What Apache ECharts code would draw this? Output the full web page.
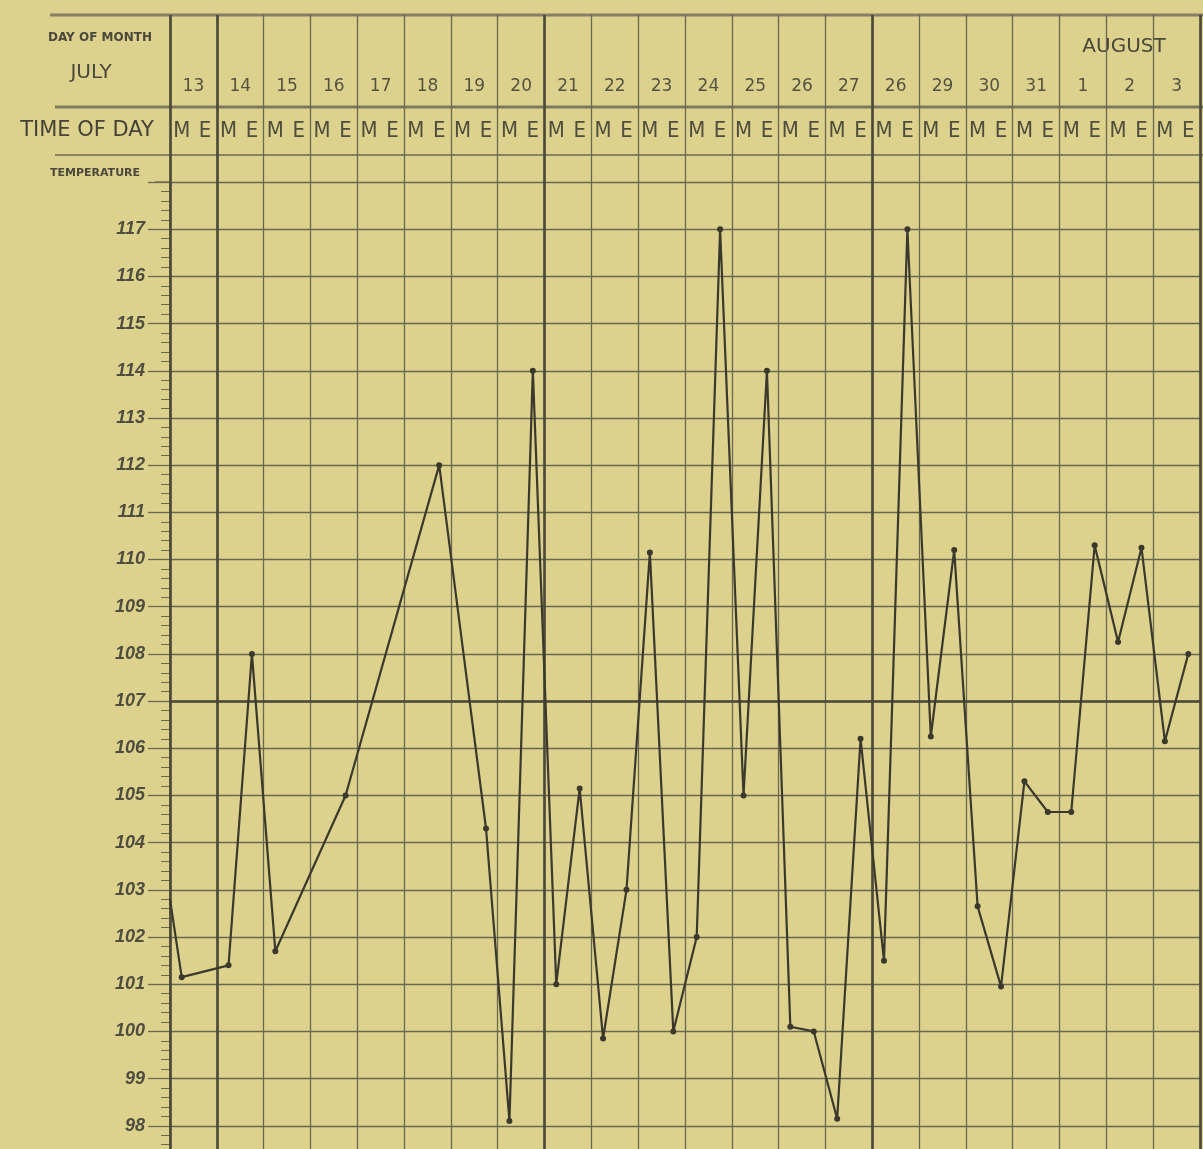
<!DOCTYPE html>
<html>
<head>
<meta charset="utf-8">
<script src="https://cdn.jsdelivr.net/npm/echarts@6/dist/echarts.min.js"></script>
<style>
  html, body { margin: 0; padding: 0; background: #dcd28e; }
  #chart { width: 1203px; height: 1149px; }
</style>
</head>
<body>
<div id="chart"></div>
<script>
// day columns as printed on the sheet (July 13 .. August 3)
var days = ['13', '14', '15', '16', '17', '18', '19', '20', '21', '22', '23',
  '24', '25', '26', '27', '26', '29', '30', '31', '1', '2', '3'];

// one reading morning (M) and evening (E) per day, null = no reading
var temps = [
  101.15, null,   101.4, 108.0,  101.7, null,   null,   105.0,
  null,   null,   null,  112.0,  null,  104.3,  98.1,   114.0,
  101.0,  105.15, 99.85, 103.0,  110.15, 100.0, 102.0,  117.0,
  105.0,  114.0,  100.1, 100.0,  98.15, 106.2,  101.5,  117.0,
  106.25, 110.2,  102.65, 100.95, 105.3, 104.65, 104.65, 110.3,
  108.25, 110.25, 106.15, 108.0
];

// the trace enters the sheet from the previous day at this level
var carryIn = 102.8;

// heavier rulings: week boundaries (in half-day slots) and the 107 line
var weekLines = [0, 2, 16, 30, 44];
var markTemp = 107;

var timeOfDay = [];
days.forEach(function () { timeOfDay.push('M', 'E'); });

var chart = echarts.init(document.getElementById('chart'));
var ink = '#3b392c';
var rule = '#6c6850';
var txt = '#4a483a';

var pts = [{ value: [0, carryIn], symbol: 'none' }];
temps.forEach(function (v, i) {
  if (v !== null) pts.push([i + 0.5, v]);
});

var option = {
  backgroundColor: '#dcd28e',
  animation: false,
  grid: [
    { left: 170, right: 3, top: 182, height: 991, outerBoundsMode: 'none' },
    { left: 170, right: 3, top: 15, height: 92, outerBoundsMode: 'none' },
    { left: 170, right: 3, top: 107, height: 48, outerBoundsMode: 'none' },
    { left: 170, right: 3, top: 15, height: 1158, outerBoundsMode: 'none' }
  ],
  xAxis: [
    { gridIndex: 0, type: 'value', min: 0, max: 44, show: false },
    {
      gridIndex: 1, type: 'category', data: days, position: 'bottom',
      axisLine: { show: false }, axisTick: { show: false }, splitLine: { show: false },
      axisLabel: { inside: true, interval: 0, margin: 12, color: '#55533f', fontSize: 17, fontFamily: 'DejaVu Sans' }
    },
    {
      gridIndex: 2, type: 'category', data: timeOfDay, position: 'top',
      axisLine: { show: false }, axisTick: { show: false }, splitLine: { show: false },
      axisLabel: { inside: true, interval: 0, margin: 13, color: '#4f4d3c', fontSize: 22, fontFamily: 'DejaVu Sans Condensed, DejaVu Sans, sans-serif' }
    },
    {
      gridIndex: 3, type: 'value', min: 0, max: 44, interval: 2,
      axisLine: { show: false }, axisTick: { show: false }, axisLabel: { show: false },
      splitLine: { show: true, lineStyle: { color: rule, width: 1.3 } }
    }
  ],
  yAxis: [
    {
      gridIndex: 0, type: 'value', min: 97, max: 118, interval: 1,
      axisLine: { show: true, lineStyle: { color: rule, width: 1.5 } },
      axisTick: { show: true, length: 22, lineStyle: { color: rule, width: 1.3 } },
      minorTick: { show: true, splitNumber: 5, length: 9, lineStyle: { color: rule, width: 1 } },
      axisLabel: {
        margin: 25, color: '#4f4d3e', fontSize: 18, fontStyle: 'italic', fontWeight: 'bold', fontFamily: 'Liberation Sans',
        formatter: function (v) { return (v >= 98 && v <= 117) ? String(v) : ''; }
      },
      splitLine: { show: true, lineStyle: { color: rule, width: 1.3 } }
    },
    { gridIndex: 1, type: 'value', show: false },
    { gridIndex: 2, type: 'value', show: false },
    { gridIndex: 3, type: 'value', min: 0, max: 1, show: false }
  ],
  graphic: [
    { type: 'line', shape: { x1: 50, y1: 15, x2: 1203, y2: 15 }, style: { stroke: '#857f64', lineWidth: 3 } },
    { type: 'line', shape: { x1: 55, y1: 107, x2: 1203, y2: 107 }, style: { stroke: '#7e785e', lineWidth: 3 } },
    { type: 'line', shape: { x1: 55, y1: 155, x2: 1203, y2: 155 }, style: { stroke: rule, lineWidth: 1.5 } },
    { type: 'line', shape: { x1: 155, y1: 182, x2: 170, y2: 182 }, style: { stroke: rule, lineWidth: 1.3 } },
    { type: 'text', x: 100, y: 38, style: { text: 'DAY OF MONTH', fontSize: 12, fontWeight: 'bold', fontFamily: 'DejaVu Sans', fill: txt, align: 'center', verticalAlign: 'middle' } },
    { type: 'text', x: 91, y: 73, style: { text: 'JULY', fontSize: 20, fontFamily: 'DejaVu Sans', fill: txt, align: 'center', verticalAlign: 'middle' } },
    { type: 'text', x: 87, y: 131, style: { text: 'TIME OF DAY', fontSize: 21, fontFamily: 'DejaVu Sans', fill: '#444236', align: 'center', verticalAlign: 'middle' } },
    { type: 'text', x: 95, y: 173, style: { text: 'TEMPERATURE', fontSize: 11, fontWeight: 'bold', fontFamily: 'DejaVu Sans', fill: txt, align: 'center', verticalAlign: 'middle' } },
    { type: 'text', x: 1124, y: 47, style: { text: 'AUGUST', fontSize: 20, fontFamily: 'DejaVu Sans', fill: txt, align: 'center', verticalAlign: 'middle' } }
  ],
  series: [
    {
      type: 'line', xAxisIndex: 3, yAxisIndex: 3, data: [], silent: true,
      markLine: {
        silent: true, symbol: 'none', label: { show: false },
        lineStyle: { color: '#4a4838', width: 2.6, type: 'solid' },
        data: weekLines.map(function (x) { return { xAxis: x }; })
      }
    },
    {
      type: 'line', xAxisIndex: 0, yAxisIndex: 0, z: 5,
      data: pts,
      symbol: 'circle', symbolSize: 6,
      lineStyle: { color: ink, width: 2.2 },
      itemStyle: { color: ink },
      markLine: {
        silent: true, symbol: 'none', label: { show: false },
        lineStyle: { color: '#4a4838', width: 2.6, type: 'solid' },
        data: [{ yAxis: markTemp }]
      }
    }
  ]
};

chart.setOption(option);
</script>
</body>
</html>
